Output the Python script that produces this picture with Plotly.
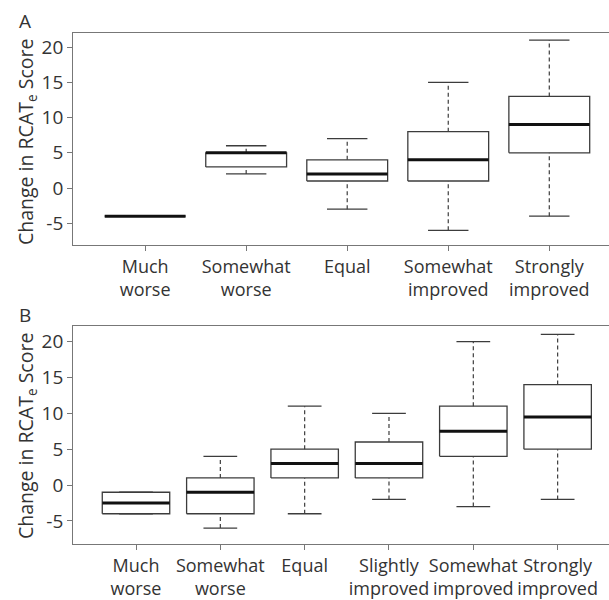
import plotly.graph_objects as go

# ---------------- data ----------------
cats_a = ["Much<br>worse", "Somewhat<br>worse", "Equal", "Somewhat<br>improved", "Strongly<br>improved"]
a_lower = [-4, 2, -3, -6, -4]
a_q1 = [-4, 3, 1, 1, 5]
a_median = [-4, 5, 2, 4, 9]
a_q3 = [-4, 5, 4, 8, 13]
a_upper = [-4, 6, 7, 15, 21]

cats_b = ["Much<br>worse", "Somewhat<br>worse", "Equal", "Slightly<br>improved",
          "Somewhat<br>improved", "Strongly<br>improved"]
b_lower = [-4, -6, -4, -2, -3, -2]
b_q1 = [-4, -4, 1, 1, 4, 5]
b_median = [-2.5, -1, 3, 3, 7.5, 9.5]
b_q3 = [-1, 1, 5, 6, 11, 14]
b_upper = [-1, 4, 11, 10, 20, 21]

y_tickvals = [20, 15, 10, 5, 0, -5]
y_ticktext = ["20", "15", "10", "5", "0", "-5"]
y_title = "Change in RCAT<sub>e</sub> Score"
panel_labels = ["A", "B"]

# ---------------- style ----------------
FONT = "Open Sans"
TXT = "#333333"
BOXC = "#3c3c3c"
FRAME = "#777777"
HALF = 0.4   # half box width (category units)
CAP = 0.2    # half cap width

fig = go.Figure()


def add_panel(lower, q1, med, q3, upper, xa, ya):
    bx, by, wx, wy, cx, cy, mx, my = [], [], [], [], [], [], [], []
    for i in range(len(med)):
        bx += [i - HALF, i + HALF, i + HALF, i - HALF, i - HALF, None]
        by += [q1[i], q1[i], q3[i], q3[i], q1[i], None]
        wx += [i, i, None, i, i, None]
        wy += [q3[i], upper[i], None, lower[i], q1[i], None]
        cx += [i - CAP, i + CAP, None, i - CAP, i + CAP, None]
        cy += [upper[i], upper[i], None, lower[i], lower[i], None]
        mx += [i - HALF, i + HALF, None]
        my += [med[i], med[i], None]
    common = dict(mode="lines", showlegend=False, hoverinfo="skip", xaxis=xa, yaxis=ya)
    fig.add_trace(go.Scatter(x=wx, y=wy, line=dict(color=BOXC, width=1.2, dash="4px,3px"), **common))
    fig.add_trace(go.Scatter(x=cx, y=cy, line=dict(color=BOXC, width=1.3), **common))
    fig.add_trace(go.Scatter(x=bx, y=by, line=dict(color=BOXC, width=1.3), **common))
    fig.add_trace(go.Scatter(x=mx, y=my, line=dict(color="#111111", width=3), **common))


add_panel(a_lower, a_q1, a_median, a_q3, a_upper, "x", "y")
add_panel(b_lower, b_q1, b_median, b_q3, b_upper, "x2", "y2")

W, H = 609, 600
left = 73.3 / W

xcommon = dict(showline=True, linecolor=FRAME, linewidth=1.3, mirror=True,
               ticks="outside", ticklen=5, tickcolor=FRAME, tickwidth=1.2,
               showgrid=False, zeroline=False, tickangle=0, ticklabelstandoff=0,
               tickfont=dict(family=FONT, size=18, color=TXT))
ycommon = dict(showline=True, linecolor=FRAME, linewidth=1.3, mirror=False,
               ticks="outside", ticklen=5, tickcolor=FRAME, tickwidth=1.2,
               showgrid=False, zeroline=False,
               tickvals=y_tickvals, ticktext=y_ticktext,
               tickfont=dict(family=FONT, size=19, color=TXT))

fig.update_layout(
    width=W, height=H,
    margin=dict(l=0, r=0, t=0, b=0),
    paper_bgcolor="white", plot_bgcolor="white",
    xaxis=dict(domain=[left, 1], range=[-0.711, 4.591],
               tickvals=list(range(len(cats_a))), ticktext=cats_a, anchor="y", **xcommon),
    yaxis=dict(domain=[1 - 246 / H, 1 - 32.7 / H], range=[-8.11, 22.06], anchor="x", **ycommon),
    xaxis2=dict(domain=[left, 1], range=[-0.7435, 5.609],
                tickvals=list(range(len(cats_b))), ticktext=cats_b, anchor="y2", **xcommon),
    yaxis2=dict(domain=[1 - 546 / H, 1 - 327.3 / H], range=[-8.24, 22.14], anchor="x2", **ycommon),
)

# axis titles and panel letters
for k, (tc, ly) in enumerate([(142.5, 21.5), (437.5, 316.5)]):
    fig.add_annotation(text=y_title, xref="paper", yref="paper",
                       x=26 / W, y=1 - tc / H, textangle=-90,
                       showarrow=False, xanchor="center", yanchor="middle",
                       font=dict(family=FONT, size=19.5, color=TXT))
    fig.add_annotation(text=panel_labels[k], xref="paper", yref="paper",
                       x=25 / W, y=1 - ly / H, showarrow=False,
                       xanchor="center", yanchor="middle",
                       font=dict(family=FONT, size=19, color=TXT))

fig.write_html("out.html", config={"displayModeBar": False},
               post_script="document.body.style.margin='0';")
